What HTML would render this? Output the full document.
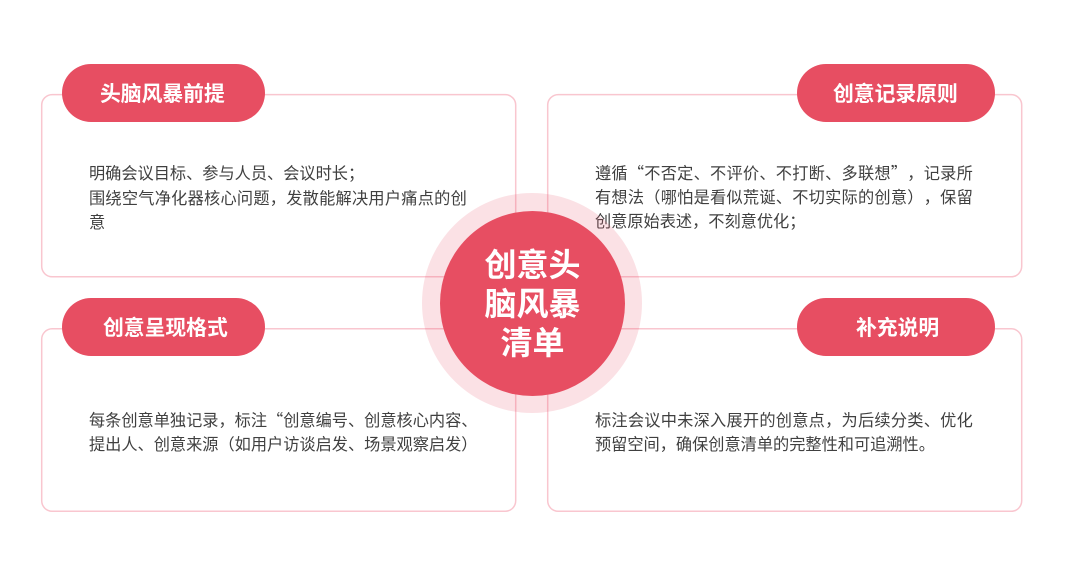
<!DOCTYPE html>
<html lang="zh-CN">
<head>
<meta charset="utf-8">
<title>创意头脑风暴清单</title>
<style>
html,body{margin:0;padding:0;background:#fff}
#p{position:relative;width:1080px;height:588px;overflow:hidden;background:#fff;font-family:"Noto Sans CJK SC","Liberation Sans",sans-serif;text-spacing-trim:space-all;font-kerning:none}
svg{position:absolute;left:0;top:0}
.pill{position:absolute;height:58px;border-radius:29px;background:#e74e62;color:#fff;font-weight:700;font-size:20.8px;line-height:58px;white-space:nowrap}
.pill span{position:absolute;top:-1px}
.t{position:absolute;color:#404040;font-size:16.2px;line-height:25px;white-space:nowrap}
.j{letter-spacing:.25px}
.halo{position:absolute;left:422px;top:193px;width:220px;height:220px;border-radius:50%;background:rgba(231,78,98,.17)}
.core{position:absolute;left:440px;top:211px;width:185px;height:185px;border-radius:50%;background:#e74e62}
.c{position:absolute;left:440px;width:185px;text-align:center;color:#fff;font-weight:700;font-size:32px;line-height:41px;white-space:nowrap}
</style>
</head>
<body>
<div id="p">
<svg width="1080" height="588" viewBox="0 0 1080 588" fill="none" stroke="#f9c6cf" stroke-width="1.5">
<rect x="41.7" y="94.6" width="474" height="182.2" rx="10.5"/>
<rect x="547.7" y="94.6" width="474" height="182.2" rx="10.5"/>
<rect x="41.7" y="328.8" width="474" height="182.5" rx="10.5"/>
<rect x="547.7" y="328.8" width="474" height="182.5" rx="10.5"/>
</svg>

<div class="pill" style="left:62px;top:64px;width:203px"><span style="left:38px">头脑风暴前提</span></div>
<div class="pill" style="left:797px;top:64px;width:198px"><span style="left:36px">创意记录原则</span></div>
<div class="pill" style="left:62px;top:298px;width:203px"><span style="left:41px">创意呈现格式</span></div>
<div class="pill" style="left:797px;top:298px;width:198px"><span style="left:59px">补充说明</span></div>

<div class="t" style="left:89px;top:160px">明确会议目标、参与人员、会议时长；</div>
<div class="t j" style="left:89px;top:185px">围绕空气净化器核心问题，发散能解决用户痛点的创</div>
<div class="t" style="left:89px;top:209px">意</div>

<div class="t j" style="left:595px;top:160px">遵循“不否定、不评价、不打断、多联想”，记录所</div>
<div class="t j" style="left:595px;top:184px">有想法（哪怕是看似荒诞、不切实际的创意），保留</div>
<div class="t" style="left:595px;top:208px">创意原始表述，不刻意优化；</div>

<div class="t" style="left:89px;top:407px">每条创意单独记录，标注“创意编号、创意核心内容、</div>
<div class="t" style="left:89px;top:431px">提出人、创意来源（如用户访谈启发、场景观察启发）</div>

<div class="t j" style="left:595px;top:407px">标注会议中未深入展开的创意点，为后续分类、优化</div>
<div class="t" style="left:595px;top:431px">预留空间，确保创意清单的完整性和可追溯性。</div>

<div class="halo"></div>
<div class="core"></div>
<div class="c" style="top:243px">创意头</div>
<div class="c" style="top:282px">脑风暴</div>
<div class="c" style="top:321px">清单</div>
</div>
</body>
</html>
